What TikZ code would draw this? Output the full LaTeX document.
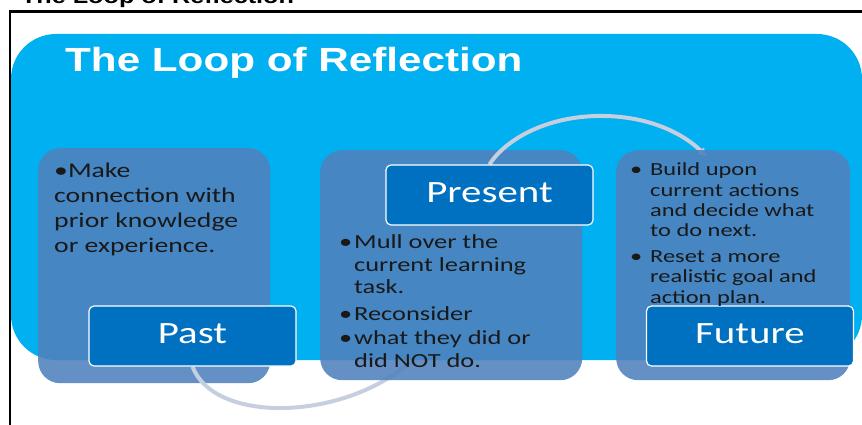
\documentclass[tikz,border=0pt]{standalone}
\usepackage{fontspec}
\usepackage{xcolor}
\usetikzlibrary{arrows.meta}
\newfontfamily\calfont[FakeStretch=1.32]{Carlito}
\newfontfamily\arialfont[FakeStretch=1.26]{Liberation Sans}
\definecolor{sky}{HTML}{00B0F0}
\definecolor{slate}{HTML}{4F81BD}
\definecolor{tagblue}{HTML}{0070C0}
\definecolor{arcgray}{HTML}{C6CFDF}
\pgfdeclarelayer{background}
\pgfsetlayers{background,main}
\tikzset{
	panel/.style={fill=slate, fill opacity=0.88, rounded corners=22pt, anchor=north west, inner sep=0},
	tag/.style={draw=white, line width=1.2pt, fill=tagblue, rounded corners=5pt, minimum width=207pt, minimum height=60pt, text=white, inner sep=0, text height=20pt, text depth=6pt, font=\calfont\fontsize{31}{36}\selectfont},
	loopline/.style={draw=arcgray, line width=4pt},
	bodytext/.style={anchor=base west, align=left, inner sep=0, text=black!90}
}

\begin{document}
\begin{tikzpicture}[x=1pt, y=-1pt]
				\useasboundingbox (0,0) rectangle (862,425);
				% draw frame and heading
				\draw[line width=2.5pt] (10,440) -- (10,11.5) -- (880,11.5);
				\node[anchor=base west, inner sep=0, font=\arialfont\bfseries\fontsize{20}{24}\selectfont] (heading) at (5,4) {\textbullet\ The Loop of Reflection};
				\node[anchor=base west, inner sep=0, text=white, font=\arialfont\bfseries\fontsize{33.5}{40}\selectfont] (title) at (65,72) {The Loop of Reflection};
				% add tags
				\node[tag] (past) at (192.5,336) {Past};
				\node[tag] (present) at (489.5,195) {Present};
				\node[tag] (future) at (750,336) {Future};
				\coordinate (pastend) at (410,362);
				\coordinate (futuretip) at (707,157);
				% add bullet texts (anchored at the last line)
				\node[bodytext, font=\calfont\fontsize{21}{25}\selectfont] (pasttext) at (54,252) {\textbullet Make\\connection with\\prior knowledge\\or experience.};
				\node[bodytext, font=\calfont\fontsize{20}{22.5}\selectfont] (presenttext) at (354,367) {\llap{\textbullet\hspace{2pt}}Mull over the\\current learning\\task.\\[4pt]\llap{\textbullet\hspace{2pt}}Reconsider\\[2pt]\llap{\textbullet\hspace{2pt}}what they did or\\did NOT do.};
				\node[bodytext, font=\calfont\fontsize{18.5}{20.2}\selectfont] (futuretext) at (650,303) {\llap{\textbullet\hspace{8pt}}Build upon\\current actions\\and decide what\\to do next.\\[6pt]\llap{\textbullet\hspace{8pt}}Reset a more\\realistic goal and\\action plan.};
				% panels and loop behind
				\begin{pgfonlayer}{background}
					\fill[sky, rounded corners=45pt] (11,34) rectangle (862,360);
					\node[panel, minimum width=232pt, minimum height=235pt] (pastpanel) at (38,148) {};
					\draw[loopline] (past.south) .. controls (215,425) and (345,420) .. (pastend);
					\node[panel, minimum width=262pt, minimum height=230pt] (presentpanel) at (320,150) {};
					\draw[loopline, -{Latex[length=9pt,width=10pt]}] (present.north) .. controls (505,140) and (545,117) .. (597,116) .. controls (650,115) and (685,135) .. (futuretip);
					\node[panel, minimum width=234pt, minimum height=230pt] (futurepanel) at (616,150) {};
				\end{pgfonlayer}
\end{tikzpicture}
\end{document}
